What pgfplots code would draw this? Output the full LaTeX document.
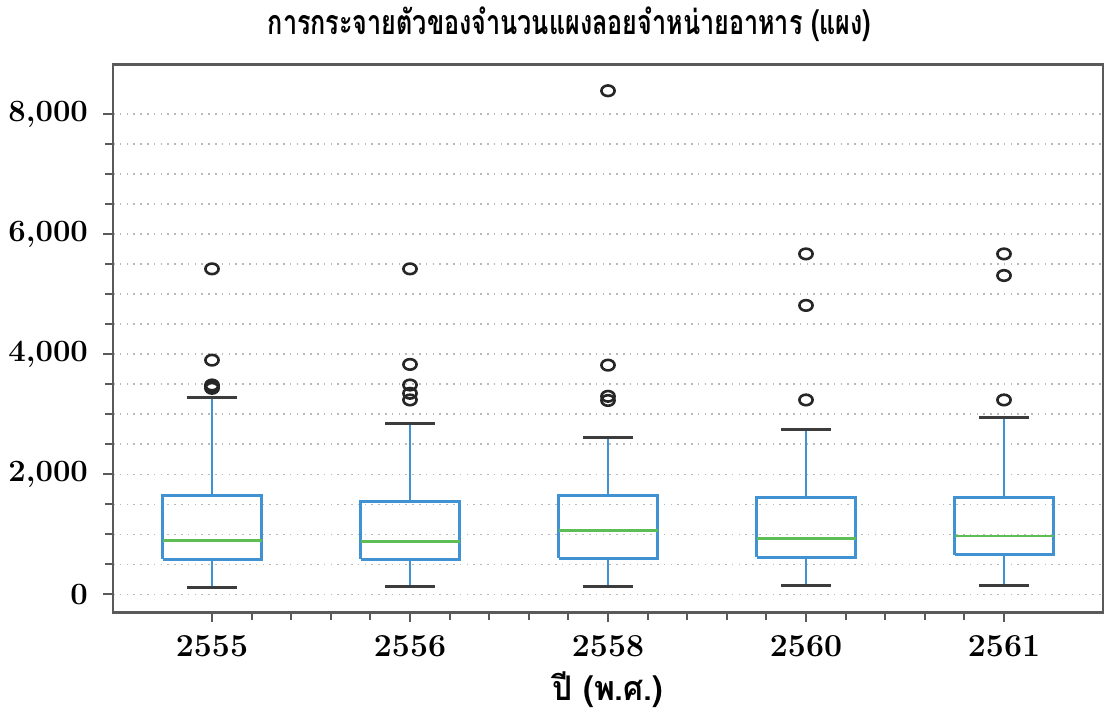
\documentclass[border=0pt]{standalone}
\usepackage{pgfplots}
\usepackage{pgfplotstable}
\pgfplotsset{compat=1.18}
\usepackage{fontspec}
\newfontfamily\thaifont[Script=Thai]{Loma}
\definecolor{boxblue}{RGB}{64,146,210}
\definecolor{medgreen}{RGB}{92,190,84}
\definecolor{capgray}{RGB}{60,60,60}
\definecolor{axgray}{RGB}{90,90,90}
% boxes: Q1 / Q3 outlines (half width 0.25)
\pgfplotstableread{
x y
-0.25 585
0.25 585
0.25 1647
-0.25 1647
-0.25 585
nan nan
0.75 585
1.25 585
1.25 1542
0.75 1542
0.75 585
nan nan
1.75 602
2.25 602
2.25 1647
1.75 1647
1.75 602
nan nan
2.75 614
3.25 614
3.25 1620
2.75 1620
2.75 614
nan nan
3.75 658
4.25 658
4.25 1620
3.75 1620
3.75 658
}\boxes
\pgfplotstableread{
x y
0 585
0 116
nan nan
0 1647
0 3284
nan nan
1 585
1 133
nan nan
1 1542
1 2841
nan nan
2 602
2 133
nan nan
2 1647
2 2615
nan nan
3 614
3 144
nan nan
3 1620
3 2753
nan nan
4 658
4 144
nan nan
4 1620
4 2947
}\whiskers
\pgfplotstableread{
x y
-0.125 116
0.125 116
nan nan
-0.125 3284
0.125 3284
nan nan
0.875 133
1.125 133
nan nan
0.875 2841
1.125 2841
nan nan
1.875 133
2.125 133
nan nan
1.875 2615
2.125 2615
nan nan
2.875 144
3.125 144
nan nan
2.875 2753
3.125 2753
nan nan
3.875 144
4.125 144
nan nan
3.875 2947
4.125 2947
}\caps
\pgfplotstableread{
x y
-0.25 900
0.25 900
nan nan
0.75 884
1.25 884
nan nan
1.75 1066
2.25 1066
nan nan
2.75 934
3.25 934
nan nan
3.75 973
4.25 973
}\medians
\pgfplotstableread{
x y
0 5423
0 3902
0 3488
0 3433
0 3460
1 5423
1 3831
1 3488
1 3350
1 3239
2 8390
2 3819
2 3300
2 3230
3 5672
3 4814
3 3239
4 5672
4 5312
4 3239
}\outliers
\begin{document}
\begin{tikzpicture}
\begin{axis}[
  name=ax,
  scale only axis,
  width=495pt, height=274pt,
  xmin=-0.5, xmax=4.5,
  ymin=-300, ymax=8830,
  xtick={0,1,2,3,4},
  xticklabels={2555,2556,2558,2560,2561},
  minor x tick num=4,
  ytick={0,2000,4000,6000,8000},
  minor y tick num=3,
  tick align=outside,
  major tick length=5pt,
  minor tick length=4pt,
  tick style={axgray,line width=1pt},
  xtick pos=bottom, ytick pos=left,
  axis line style={axgray,line width=1.2pt},
  ymajorgrids, yminorgrids,
  major grid style={gray!55, line width=0.8pt, dash pattern=on 0.8pt off 2.6pt},
  minor grid style={gray!55, line width=0.8pt, dash pattern=on 0.8pt off 2.6pt},
  unbounded coords=jump,
  /pgf/number format/1000 sep={,},
  /pgf/number format/assume math mode=true,
  yticklabel style={font=\fontsize{15.5}{16}\selectfont\bfseries, xshift=-4pt},
  xticklabel style={font=\fontsize{16}{17}\selectfont\bfseries, yshift=-3pt},
  title={\scalebox{0.74}[1]{\thaifont\bfseries\fontsize{17}{18}\selectfont การกระจายตัวของจำนวนแผงลอยจำหน่ายอาหาร (แผง)}},
  title style={at={(rel axis cs:0.461,1)}, anchor=base, yshift=9pt},
  xlabel={\scalebox{0.93}[1]{\thaifont\bfseries\fontsize{17}{19}\selectfont ปี (พ.ศ.)}},
  xlabel style={at={(rel axis cs:0.5,0)}, anchor=base, yshift=-44pt},
]
\addplot[boxblue, line width=1.4pt, no marks] table[x=x,y=y] {\whiskers};
\addplot[boxblue, line width=1.5pt, no marks, line join=miter] table[x=x,y=y] {\boxes};
\addplot[medgreen, line width=1.4pt, no marks] table[x=x,y=y] {\medians};
\addplot[capgray, line width=1.4pt, no marks] table[x=x,y=y] {\caps};
\addplot[only marks, mark=o, mark size=3.3pt, black!85, mark options={line width=1.3pt, yscale=0.8}] table[x=x,y=y] {\outliers};
\end{axis}
\path (ax.south west) ++(-56.5pt,-55pt) rectangle ++(556.5pt,360pt);
\end{tikzpicture}
\end{document}
